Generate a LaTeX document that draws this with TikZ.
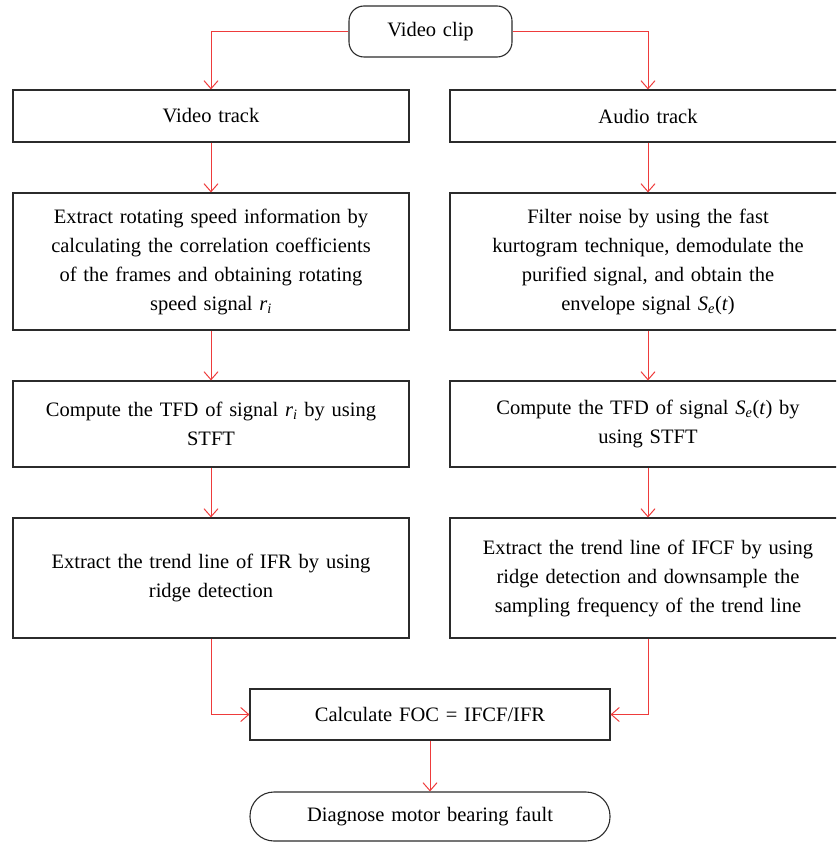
\documentclass[tikz,border=0pt]{standalone}
\usepackage{fontspec}
\setmainfont{Liberation Serif}
\usetikzlibrary{arrows.meta}
\definecolor{flow}{HTML}{EE3B3B}
\definecolor{ink}{HTML}{2B2B2B}
\newcommand{\ri}{\textit{r\textsubscript{i}}}
\newcommand{\Se}{\textit{S\textsubscript{e}}(\textit{t})}

\begin{document}
\begin{tikzpicture}[x=1pt,y=-1pt,font=\fontsize{20.5}{29}\selectfont,box/.style={draw=ink,line width=1.1pt,inner sep=0pt,minimum width=396pt,text width=370pt,align=center},term/.style={box,minimum width=360pt,text width=340pt},arrow/.style={-{Straight Barb[length=8pt,width=14pt]},line width=1pt,flow}]
 \clip (0,0) rectangle (836,842);
 \node[box,rounded corners=15pt,minimum width=163pt,text width=140pt,minimum height=51pt] (clip) at (430.5,31.5) {Video clip};
 \node[box,minimum height=52pt] (vtrack) at (211,116) {Video track};
 \node[box,minimum height=52pt] (atrack) at (648,116) {Audio track};
 \node[box,minimum height=137pt] (vspeed) at (211,261.5) {Extract rotating speed information by\\calculating the correlation coefficients\\of the frames and obtaining rotating\\speed signal \ri};
 \node[box,minimum height=137pt] (anoise) at (648,261.5) {Filter noise by using the fast\\kurtogram technique, demodulate the\\purified signal, and obtain the\\envelope signal \Se};
 \node[box,minimum height=86pt] (vtfd) at (211,424) {Compute the TFD of signal \ri{} by using\\STFT};
 \node[box,minimum height=86pt] (atfd) at (648,424) {Compute the TFD of signal \Se{} by\\using STFT};
 \node[box,minimum height=120pt] (vifr) at (211,578) {Extract the trend line of IFR by using\\ridge detection};
 \node[box,minimum height=120pt] (aifcf) at (648,578) {Extract the trend line of IFCF by using\\ridge detection and downsample the\\sampling frequency of the trend line};
 \node[term,minimum height=51pt] (foc) at (430,714.5) {Calculate FOC = IFCF/IFR};
 \node[term,rounded corners=24pt,minimum height=49pt] (diag) at (430,816.5) {Diagnose motor bearing fault};
 \draw[arrow] (clip.west) -| (vtrack.north);
 \draw[arrow] (clip.east) -| (atrack.north);
 \draw[arrow] (vtrack) -- (vspeed);
 \draw[arrow] (atrack) -- (anoise);
 \draw[arrow] (vspeed) -- (vtfd);
 \draw[arrow] (anoise) -- (atfd);
 \draw[arrow] (vtfd) -- (vifr);
 \draw[arrow] (atfd) -- (aifcf);
 \draw[arrow] (vifr.south) |- (foc.west);
 \draw[arrow] (aifcf.south) |- (foc.east);
 \draw[arrow] (foc) -- (diag);
\end{tikzpicture}
\end{document}
